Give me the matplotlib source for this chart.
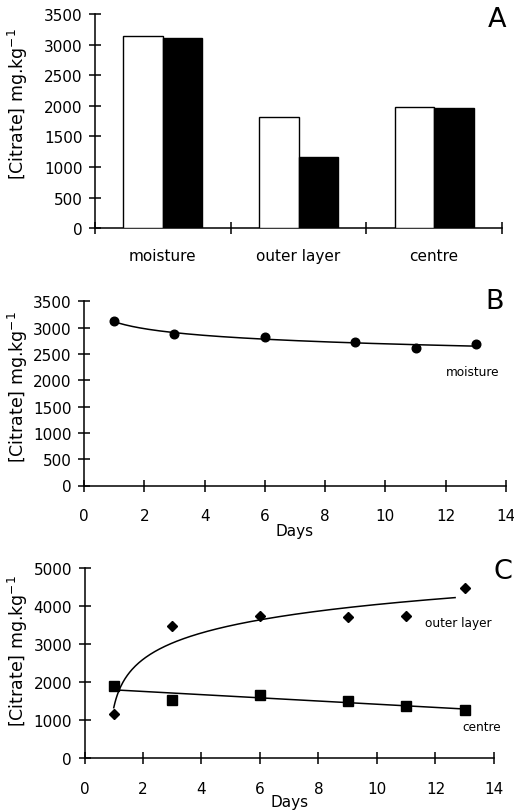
import numpy as np
import matplotlib
matplotlib.use('Agg')
import matplotlib.pyplot as plt

plt.rcParams['font.family'] = ['DejaVu Sans']

# ---------------- data ----------------
categories = ['moisture', 'outer layer', 'centre']
open_bars = [3135, 1815, 1980]
filled_bars = [3100, 1170, 1960]

days = [1, 3, 6, 9, 11, 13]
moisture = [3120, 2878, 2821, 2720, 2606, 2688]
outer_layer = [1164, 3481, 3746, 3720, 3746, 4487]
centre = [1914, 1524, 1656, 1497, 1384, 1278]

yticks_A = [0, 500, 1000, 1500, 2000, 2500, 3000, 3500]
yticks_C = [0, 1000, 2000, 3000, 4000, 5000]
xticks_days = [0, 2, 4, 6, 8, 10, 12, 14]

# ---------------- layout ----------------
W, H = 514, 812
fig = plt.figure(figsize=(W / 100, H / 100), dpi=100)
fig.patch.set_facecolor('white')


def box(l, t, r, b):
    return [l / W, 1 - b / H, (r - l) / W, (b - t) / H]


TICK_FS = 11
LW = 1.1


def style(ax):
    for s in ('top', 'right'):
        ax.spines[s].set_visible(False)
    for s in ('left', 'bottom'):
        ax.spines[s].set_linewidth(LW)
    ax.tick_params(axis='y', direction='inout', length=8, width=LW,
                   labelsize=TICK_FS, pad=5)
    ax.tick_params(axis='x', direction='inout', length=8, width=LW,
                   labelsize=TICK_FS, pad=12)
    ax.set_facecolor('none')


# ---------------- Panel A ----------------
axA = fig.add_axes(box(95, 15, 502, 229.3))
style(axA)
x = np.arange(len(categories))
bw = 0.29
axA.bar(x - bw / 2, open_bars, width=bw, color='white', edgecolor='black',
        linewidth=1.0, zorder=3)
axA.bar(x + bw / 2, filled_bars, width=bw, color='black', edgecolor='black',
        linewidth=1.0, zorder=3)
axA.set_xlim(-0.5, 2.5)
axA.set_ylim(0, 3500)
axA.set_yticks(yticks_A)
axA.set_xticks(x)
axA.set_xticklabels(categories)
axA.tick_params(axis='x', which='major', length=0, pad=14)
axA.set_xticks([-0.5, 0.5, 1.5, 2.5], minor=True)
axA.tick_params(axis='x', which='minor', direction='inout', length=9, width=LW)

# ---------------- Panel B ----------------
axB = fig.add_axes(box(84, 302.3, 506, 486.5))
style(axB)
d = np.array(days, dtype=float)
coefB = np.polyfit(np.log(d), np.log(moisture), 1)
xsB = np.linspace(1, 13, 200)
axB.plot(xsB, np.exp(np.polyval(coefB, np.log(xsB))), color='black', lw=1.1)
axB.plot(days, moisture, 'o', color='black', ms=6.2, clip_on=False)
axB.set_xlim(0, 14)
axB.set_ylim(0, 3500)
axB.set_yticks(yticks_A)
axB.set_xticks(xticks_days)
axB.set_xlabel('Days', fontsize=TICK_FS, labelpad=0)
axB.text(12.88, 2160, 'moisture', fontsize=8.7, ha='center', va='center')

# ---------------- Panel C ----------------
axC = fig.add_axes(box(84.5, 569.3, 494, 759.3))
style(axC)
shift = 0.8
coefO = np.polyfit(np.log(d - shift), outer_layer, 1)
xsO = np.linspace(1, 12.67, 300)
axC.plot(xsO, np.polyval(coefO, np.log(xsO - shift)), color='black', lw=1.1)
coefC = np.polyfit(d, centre, 1)
xsC = np.linspace(1, 13, 50)
axC.plot(xsC, np.polyval(coefC, xsC), color='black', lw=1.1)
axC.plot(days, outer_layer, 'D', color='black', ms=5.5, clip_on=False)
axC.plot(days, centre, 's', color='black', ms=7, clip_on=False)
axC.set_xlim(0, 14)
axC.set_ylim(0, 5000)
axC.set_yticks(yticks_C)
axC.set_xticks(xticks_days)
axC.set_xlabel('Days', fontsize=TICK_FS, labelpad=-1)
axC.text(12.79, 3580, 'outer layer', fontsize=8.7, ha='center', va='center')
axC.text(13.57, 830, 'centre', fontsize=8.7, ha='center', va='center')

# ---------------- labels ----------------
ylab = '[Citrate] mg.kg$^{-1}$'
for cy in (104.5, 387.5, 651.5):
    fig.text(18 / W, 1 - cy / H, ylab, rotation=90, ha='center', va='center',
             fontsize=12.5)

fig.text(497 / W, 1 - 20 / H, 'A', fontsize=19.5, ha='center', va='center')
fig.text(495 / W, 1 - 302 / H, 'B', fontsize=19.5, ha='center', va='center')
fig.text(503 / W, 1 - 572 / H, 'C', fontsize=19.5, ha='center', va='center')

fig.savefig('out.png', dpi=100)
